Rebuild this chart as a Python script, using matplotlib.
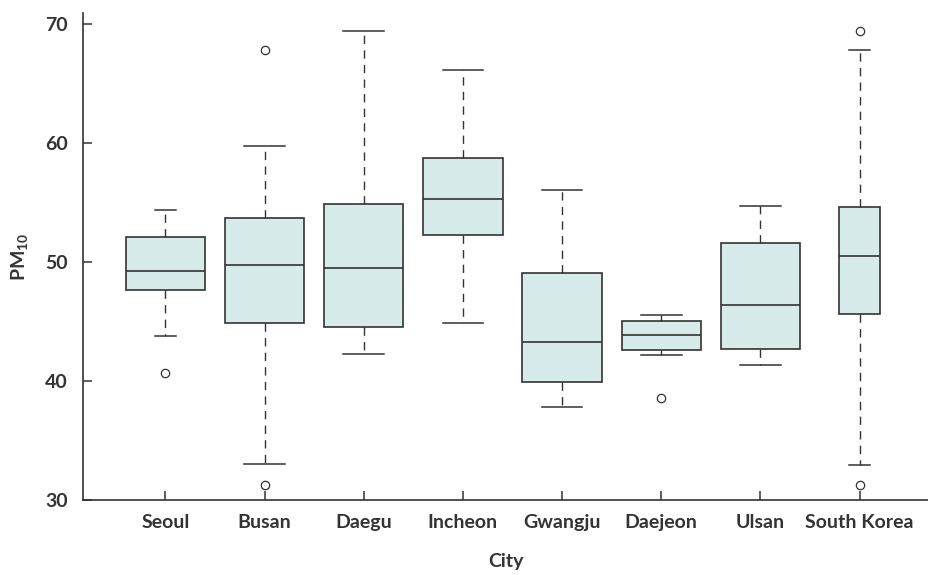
import matplotlib
matplotlib.use('Agg')
import matplotlib.pyplot as plt

# Box statistics (PM10 by city)
cities = ['Seoul', 'Busan', 'Daegu', 'Incheon', 'Gwangju', 'Daejeon', 'Ulsan', 'South Korea']
whislo = [43.8, 33.0, 42.3, 44.9, 37.8, 42.2, 41.3, 32.9]
q1 = [47.6, 44.9, 44.5, 52.3, 39.9, 42.6, 42.7, 45.6]
med = [49.2, 49.7, 49.5, 55.3, 43.3, 43.9, 46.4, 50.5]
q3 = [52.1, 53.7, 54.9, 58.7, 49.1, 45.0, 51.6, 54.6]
whishi = [54.4, 59.7, 69.4, 66.1, 56.0, 45.5, 54.7, 67.8]
fliers = [[40.7], [67.8, 31.3], [], [], [], [38.6], [], [69.4, 31.3]]
box_widths = [0.8, 0.8, 0.8, 0.8, 0.8, 0.8, 0.8, 0.42]
cap_widths = [0.21, 0.41, 0.41, 0.41, 0.41, 0.41, 0.41, 0.22]

plt.rcParams['font.family'] = ['Lato', 'DejaVu Sans']
plt.rcParams['mathtext.fontset'] = 'custom'
plt.rcParams['mathtext.bf'] = 'Lato:bold'
plt.rcParams['mathtext.rm'] = 'Lato'
text_col = '#333333'
line_col = '#333333'

stats = []
for i, c in enumerate(cities):
    stats.append({'label': c, 'whislo': whislo[i], 'q1': q1[i], 'med': med[i],
                  'q3': q3[i], 'whishi': whishi[i], 'fliers': fliers[i]})

fig = plt.figure(figsize=(9.29, 5.75), dpi=100)
ax = fig.add_axes([0.0897, 0.1304, 0.9103, 0.8473])

positions = list(range(1, len(cities) + 1))
bp = ax.bxp(stats, positions=positions, widths=box_widths, capwidths=cap_widths,
            patch_artist=True, showfliers=True,
            boxprops=dict(facecolor='#d7ecea', edgecolor=line_col, linewidth=1.2),
            medianprops=dict(color=line_col, linewidth=1.2),
            whiskerprops=dict(color=line_col, linewidth=1.0, linestyle=(0, (6, 4.5))),
            capprops=dict(color=line_col, linewidth=1.1),
            flierprops=dict(marker='o', markersize=6, markerfacecolor='white',
                            markeredgecolor=line_col, markeredgewidth=0.9))

ax.set_xlim(0.173, 8.70)
ax.set_ylim(30, 70.92)
ax.set_yticks([30, 40, 50, 60, 70])
ax.set_xticks(positions)
ax.set_xticklabels(cities)

ax.spines['top'].set_visible(False)
ax.spines['right'].set_visible(False)
for s in ['left', 'bottom']:
    ax.spines[s].set_color(line_col)
    ax.spines[s].set_linewidth(1.2)

ax.tick_params(axis='both', direction='in', length=6.5, width=1.1, colors=line_col,
               labelcolor=text_col, labelsize=14)
ax.tick_params(axis='x', pad=10)
ax.tick_params(axis='y', pad=11)
for lbl in ax.get_xticklabels() + ax.get_yticklabels():
    lbl.set_fontweight('bold')

ax.set_xlabel('City', fontsize=14, fontweight='bold', color=text_col, labelpad=16)
ax.set_ylabel(r'$\mathbf{PM}_{\mathbf{10}}$', fontsize=14, color=text_col, labelpad=10)

fig.savefig('out.png', dpi=100)
